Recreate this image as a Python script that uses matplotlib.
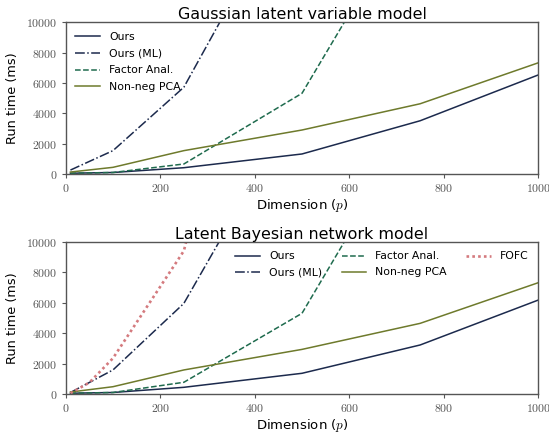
import matplotlib

matplotlib.use("Agg")
import matplotlib.pyplot as plt
from matplotlib.ticker import FuncFormatter

plt.rcParams["font.family"] = ["DejaVu Sans"]
plt.rcParams["mathtext.fontset"] = "cm"

# 维度 p
dims = [10, 100, 250, 500, 750, 1000]
fofc_dims = [10, 50, 100, 250, 500]

# 上图：Gaussian latent variable model（单位 ms）
gauss_ours = [50, 100, 415, 1320, 3510, 6530]
gauss_ours_ml = [260, 1540, 5720, 19800, 45000, 90000]
gauss_fa = [50, 100, 660, 5320, 18400, 40000]
gauss_pca = [130, 440, 1540, 2900, 4630, 7330]

# 下图：Latent Bayesian network model
bn_ours = [50, 100, 440, 1360, 3220, 6170]
bn_ours_ml = [100, 1580, 5950, 19500, 45000, 90000]
bn_fa = [50, 100, 770, 5300, 18400, 40000]
bn_pca = [130, 480, 1580, 2930, 4640, 7310]
bn_fofc = [50, 750, 2350, 9400, 40000]

NAVY = "#1c2a4d"
GREEN = "#1f6b4e"
OLIVE = "#6e7a2c"
PINK = "#d47a7e"
FRAME = "#555555"


def tex_ticks(v, pos):
    return r"$%d$" % int(v)


def style_axes(ax, title):
    ax.set_xlim(0, 1000)
    ax.set_ylim(0, 10000)
    ax.set_xticks([0, 200, 400, 600, 800, 1000])
    ax.set_yticks([0, 2000, 4000, 6000, 8000, 10000])
    ax.xaxis.set_major_formatter(FuncFormatter(tex_ticks))
    ax.yaxis.set_major_formatter(FuncFormatter(tex_ticks))
    ax.tick_params(labelsize=8.5, length=3, color=FRAME, labelcolor="#555555", pad=3)
    for s in ax.spines.values():
        s.set_color(FRAME)
        s.set_linewidth(1.0)
    ax.set_title(title, fontsize=11.4, pad=2)
    ax.set_xlabel(r"Dimension ($p$)", fontsize=9.5, labelpad=1)
    ax.set_ylabel("Run time (ms)", fontsize=9.3, labelpad=5)


fig = plt.figure(figsize=(5.49, 4.36), dpi=100)
ax1 = fig.add_axes([0.1197, 0.6009, 0.8608, 0.348])
ax2 = fig.add_axes([0.1197, 0.0963, 0.8608, 0.3493])

lw = 1.1
ax1.plot(dims, gauss_ours, color=NAVY, lw=lw, label="Ours")
ax1.plot(dims, gauss_ours_ml, color=NAVY, lw=lw, ls="-.", label="Ours (ML)")
ax1.plot(dims, gauss_fa, color=GREEN, lw=lw, ls="--", label="Factor Anal.")
ax1.plot(dims, gauss_pca, color=OLIVE, lw=lw, label="Non-neg PCA")
style_axes(ax1, "Gaussian latent variable model")
ax1.legend(loc="upper left", frameon=False, fontsize=7.8, handlelength=2.3,
           labelspacing=0.62, borderaxespad=0.5)

ax2.plot(dims, bn_ours, color=NAVY, lw=lw, label="Ours")
ax2.plot(dims, bn_ours_ml, color=NAVY, lw=lw, ls="-.", label="Ours (ML)")
ax2.plot(dims, bn_fa, color=GREEN, lw=lw, ls="--", label="Factor Anal.")
ax2.plot(dims, bn_pca, color=OLIVE, lw=lw, label="Non-neg PCA")
ax2.plot(fofc_dims, bn_fofc, color=PINK, lw=1.9, ls=(0, (1, 1.2)), label="FOFC")
style_axes(ax2, "Latent Bayesian network model")
ax2.legend(loc="upper right", frameon=False, fontsize=7.8, ncol=3, handlelength=2.3,
           labelspacing=0.55, columnspacing=1.8, borderaxespad=0.5)

fig.savefig("out.png", dpi=100)
